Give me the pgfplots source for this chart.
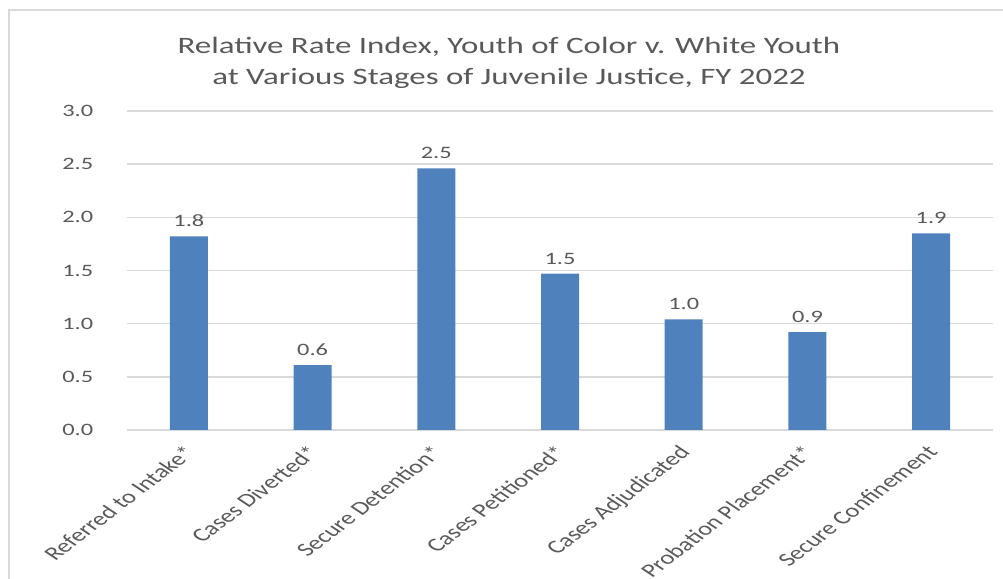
\documentclass[border=0pt]{standalone}
\usepackage{fontspec}
\setmainfont{Carlito}
\usepackage{pgfplots}
\pgfplotsset{compat=1.18}
\usepackage{pgfplotstable}
\definecolor{barblue}{HTML}{4F81BD}
\definecolor{txtgray}{HTML}{595959}
\definecolor{gridgray}{HTML}{D9D9D9}
\pgfplotstableread{
x y lab
0 1.82 1.8
1 0.61 0.6
2 2.46 2.5
3 1.47 1.5
4 1.04 1.0
5 0.92 0.9
6 1.85 1.9
}\datatable
\begin{document}
\begin{tikzpicture}[x=1pt,y=1pt]
\draw[gridgray, line width=2pt] (9,-20) -- (9,568) -- (1010,568);
\node[txtgray, align=center, xscale=1.4, font=\fontsize{23.5}{31}\selectfont] at (509,515) {Relative Rate Index, Youth of Color v. White Youth\\at Various Stages of Juvenile Justice, FY 2022};
\begin{axis}[
  at={(127pt,148pt)}, anchor=south west,
  scale only axis, width=866pt, height=319pt,
  xmin=-0.5, xmax=6.5, ymin=0, ymax=3,
  ytick={0,0.5,1,1.5,2,2.5,3},
  xtick=data,
  xticklabels={Referred to Intake*, Cases Diverted*, Secure Detention*, Cases Petitioned*, Cases Adjudicated, Probation Placement*, Secure Confinement},
  axis x line*=bottom, axis y line*=left,
  y axis line style={draw=none},
  x axis line style={gridgray, line width=1.5pt},
  major tick length=0pt,
  ymajorgrids, grid style={gridgray, line width=1.5pt},
  /pgf/number format/assume math mode=true,
  /pgf/number format/.cd, fixed, fixed zerofill, precision=1, /pgfplots/.cd,
  yticklabel style={font=\fontsize{17.4}{20}\selectfont, text=txtgray, anchor=east, inner sep=0pt, xscale=1.4, xshift=-24pt},
  xticklabel style={font=\fontsize{19}{21}\selectfont, text=txtgray, xshift=-6pt, yshift=-14pt, xscale=1.4, rotate=47, anchor=north east, inner sep=0pt},
  ybar, bar width=38pt,
  nodes near coords, point meta=explicit symbolic,
  every node near coord/.append style={font=\fontsize{17.4}{20}\selectfont, text=txtgray, xscale=1.4, anchor=south, yshift=6pt},
]
\addplot[fill=barblue, draw=none] table[x=x, y=y, meta=lab] {\datatable};
\end{axis}
\pgfresetboundingbox
\useasboundingbox (0,0) rectangle (1003,578);
\end{tikzpicture}
\end{document}
